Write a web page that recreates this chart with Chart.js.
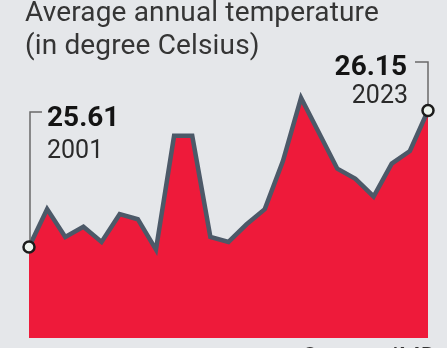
<!DOCTYPE html>
<html>
<head>
<meta charset="utf-8">
<script src="https://cdn.jsdelivr.net/npm/chart.js@4.4.0/dist/chart.umd.min.js"></script>
<style>
  html, body { margin:0; padding:0; }
  body { width:447px; height:348px; background:#e5e7ea; position:relative; overflow:hidden; font-family: Roboto, "Liberation Sans", sans-serif; }
  #wrap { position:absolute; left:0; top:0; width:447px; height:348px; }
  .t { position:absolute; white-space:nowrap; line-height:1; }
  .title { font-size:28px; color:#353535; left:25px; letter-spacing:0.15px; }
  .big { font-size:28px; font-weight:700; color:#141414; }
  .yr { font-size:25px; color:#2a2a2a; }
  .src { font-size:25px; color:#333; }
</style>
</head>
<body>
<div id="wrap"><canvas id="c" width="447" height="348"></canvas></div>
<div class="t title" style="top:-2px;">Average annual temperature</div>
<div class="t title" style="top:31px;">(in degree Celsius)</div>
<div class="t big" style="left:47px; top:103px;">25.61</div>
<div class="t yr" style="left:47px; top:137px;">2001</div>
<div class="t big" style="right:40px; top:52px;">26.15</div>
<div class="t yr" style="right:39px; top:82px;">2023</div>
<div class="t src" style="right:10px; top:345px;">Source: IMD</div>
<script>
const years = ['2001','2002','2003','2004','2005','2006','2007','2008','2009','2010','2011','2012','2013','2014','2015','2016','2017','2018','2019','2020','2021','2022','2023'];
const temps = [25.61,25.76,25.65,25.69,25.63,25.74,25.72,25.60,26.05,26.05,25.65,25.63,25.70,25.76,25.95,26.20,26.06,25.92,25.88,25.81,25.94,25.99,26.15];
const highlighted = ['2001','2023'];

const bracketPlugin = {
  id:'brackets',
  afterDatasetsDraw(chart){
    const ctx = chart.ctx;
    const pts = chart.getDatasetMeta(0).data;
    const first = pts[0], last = pts[pts.length-1];
    ctx.save();
    ctx.strokeStyle = '#6a6a6a';
    ctx.lineWidth = 1.5;
    ctx.beginPath();
    ctx.moveTo(first.x + 13, 112);
    ctx.lineTo(first.x + 1, 112);
    ctx.lineTo(first.x + 1, first.y - 6);
    ctx.moveTo(last.x - 13, 62);
    ctx.lineTo(last.x, 62);
    ctx.lineTo(last.x, last.y - 6);
    ctx.stroke();
    ctx.restore();
    ctx.save();
    [first, last].forEach(p => {
      ctx.beginPath();
      ctx.arc(p.x, p.y, 5.5, 0, Math.PI*2);
      ctx.fillStyle = '#eef4ef';
      ctx.fill();
      ctx.lineWidth = 2.5;
      ctx.strokeStyle = '#1c1c1c';
      ctx.stroke();
    });
    ctx.restore();
  }
};

new Chart(document.getElementById('c'), {
  type:'line',
  data:{
    labels: years,
    datasets:[{
      data: temps,
      borderColor:'#4c5968',
      borderWidth:4.5,
      backgroundColor:'#ee1a3a',
      fill:'start',
      tension:0,
      pointRadius:0,
      clip:false
    }]
  },
  options:{
    responsive:false,
    animation:false,
    layout:{ padding:{ left:29, right:19, top:60, bottom:10 } },
    plugins:{ legend:{display:false}, tooltip:{enabled:false}, title:{display:false} },
    scales:{
      x:{ display:false, offset:false },
      y:{ display:false, min:25.25, max:26.35 }
    }
  },
  plugins:[bracketPlugin]
});
</script>
</body>
</html>
